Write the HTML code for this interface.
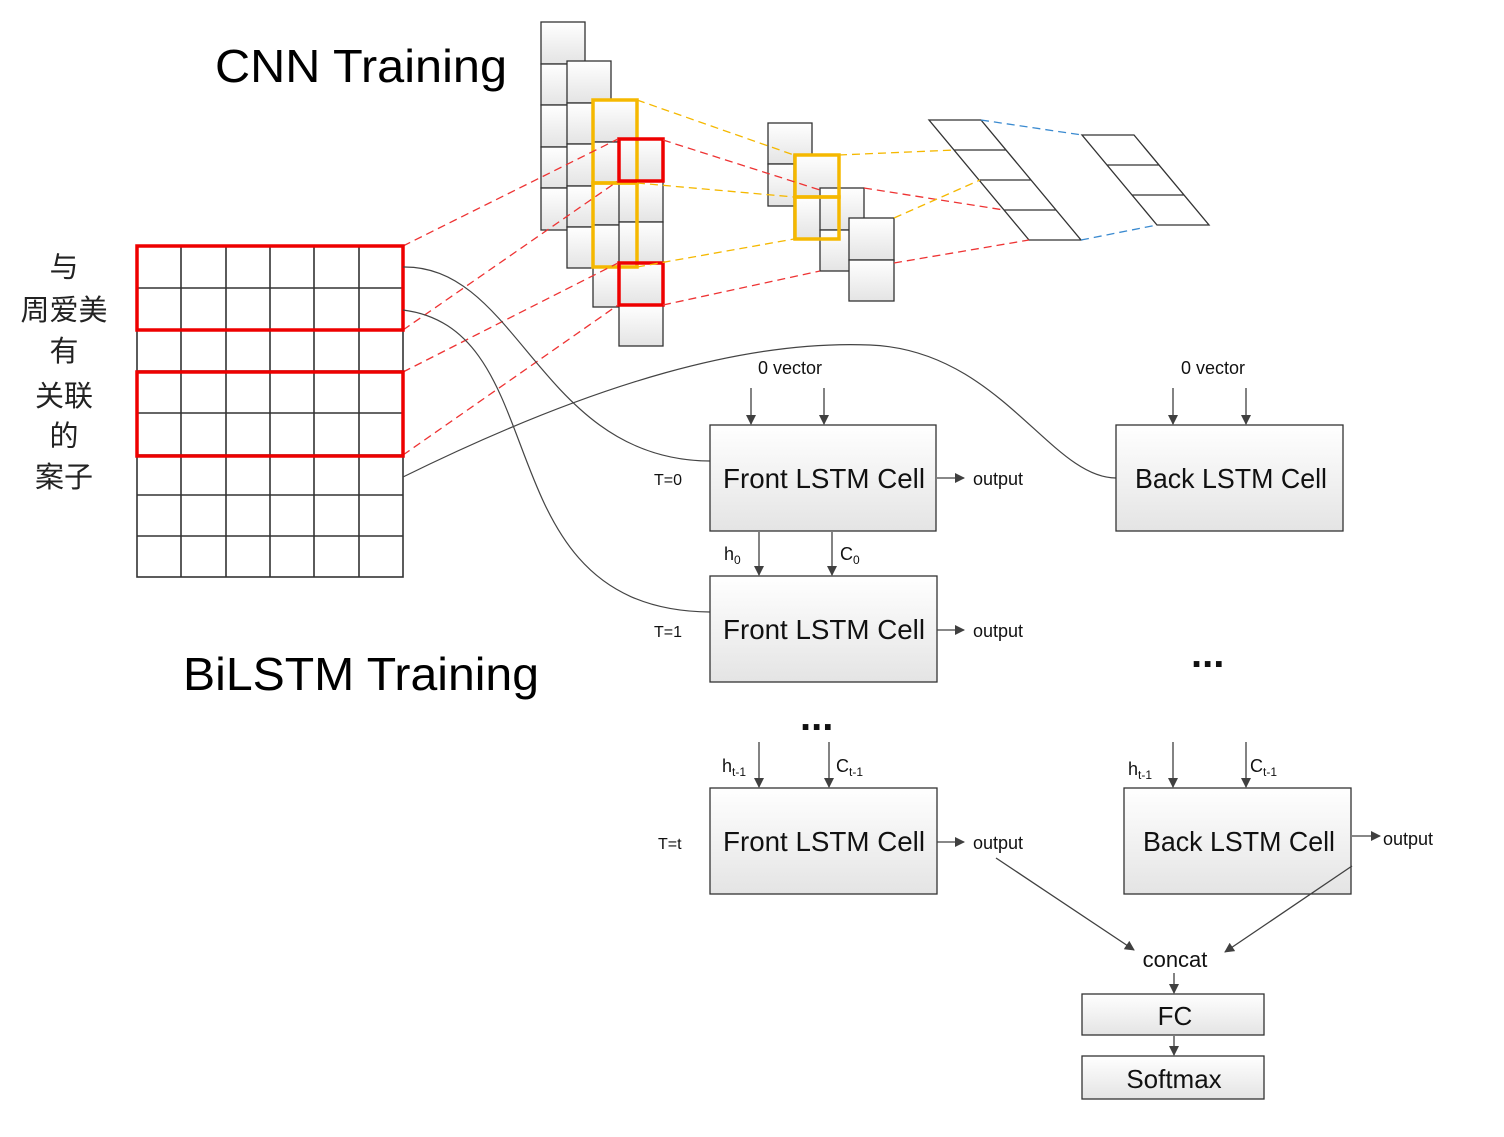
<!DOCTYPE html>
<html><head><meta charset="utf-8"><style>body{margin:0;background:#fff}svg{display:block}</style></head><body>
<svg width="1504" height="1137" viewBox="0 0 1504 1137" xmlns="http://www.w3.org/2000/svg" font-family="Liberation Sans, sans-serif">
<defs>
<linearGradient id="g" x1="0" y1="0" x2="0" y2="1"><stop offset="0" stop-color="#fff"/><stop offset="1" stop-color="#e4e4e4"/></linearGradient>
<marker id="a" markerWidth="10" markerHeight="10" refX="9" refY="5" orient="auto" markerUnits="userSpaceOnUse"><path d="M0,0 L10,5 L0,10 z" fill="#404040"/></marker>
</defs>
<text x="215" y="82" font-size="46" textLength="292" lengthAdjust="spacingAndGlyphs">CNN Training</text>
<text x="183" y="690" font-size="46" textLength="356" lengthAdjust="spacingAndGlyphs">BiLSTM Training</text>
<g font-family="Liberation Sans, Noto Sans CJK SC, sans-serif" font-size="29" fill="#222" text-anchor="middle">
<text x="64" y="277">与</text><text x="64" y="320">周爱美</text><text x="64" y="361">有</text><text x="64" y="406">关联</text><text x="64" y="446">的</text><text x="64" y="487">案子</text>
</g>
<!-- CNN columns -->
<g stroke="#333" stroke-width="1.3" fill="url(#g)">
<rect x="541" y="22" width="44" height="42"/><rect x="541" y="64" width="44" height="41"/><rect x="541" y="105" width="44" height="42"/><rect x="541" y="147" width="44" height="41"/><rect x="541" y="188" width="44" height="42"/>
<rect x="567" y="61" width="44" height="42"/><rect x="567" y="103" width="44" height="41"/><rect x="567" y="144" width="44" height="42"/><rect x="567" y="186" width="44" height="41"/><rect x="567" y="227" width="44" height="41"/>
<rect x="593" y="100" width="44" height="42"/><rect x="593" y="142" width="44" height="41"/><rect x="593" y="183" width="44" height="42"/><rect x="593" y="225" width="44" height="42"/><rect x="593" y="267" width="44" height="40"/>
<rect x="619" y="139" width="44" height="42"/><rect x="619" y="181" width="44" height="41"/><rect x="619" y="222" width="44" height="41"/><rect x="619" y="263" width="44" height="42"/><rect x="619" y="305" width="44" height="41"/>
<rect x="768" y="123" width="44" height="41"/><rect x="768" y="164" width="44" height="42"/>
<rect x="794" y="155" width="45" height="42"/><rect x="794" y="197" width="45" height="42"/>
<rect x="820" y="188" width="44" height="42"/><rect x="820" y="230" width="44" height="41"/>
<rect x="849" y="218" width="45" height="42"/><rect x="849" y="260" width="45" height="41"/>
</g>
<g fill="none" stroke="#f5b800" stroke-width="3.5"><rect x="593" y="100" width="44" height="83"/><rect x="593" y="183" width="44" height="84"/><rect x="795" y="155" width="44" height="42"/><rect x="795" y="197" width="44" height="42"/></g>
<g fill="none" stroke="#e00" stroke-width="3.5"><rect x="619" y="139" width="44" height="42"/><rect x="619" y="263" width="44" height="42"/></g>
<!-- parallelograms -->
<g fill="none" stroke="#333" stroke-width="1.3">
<path d="M929,120 H981 L1081,240 H1029 Z M954,150 H1006 M979,180 H1031 M1004,210 H1056"/>
<path d="M1082,135 H1134 L1209,225 H1157 Z M1107,165 H1159 M1132,195 H1184"/>
</g>
<!-- dashed -->
<g fill="none" stroke-width="1.3" stroke-dasharray="8,5">
<g stroke="#e33"><path d="M403,246 L618,139 M403,330 L618,181 M403,372 L618,263 M403,455 L618,305 M663,140 L820,190 M663,305 L820,271 M864,188 L1004,210 M894,263 L1029,240"/></g>
<g stroke="#f5b800"><path d="M637,100 L794,155 M637,183 L794,197 M637,267 L794,239 M839,155 L955,150 M894,218 L980,180"/></g>
<g stroke="#3a8ad0"><path d="M981,120 L1082,135 M1081,240 L1157,225"/></g>
</g>
<!-- matrix -->
<g stroke="#333" stroke-width="1.6" fill="none">
<rect x="137" y="246" width="266" height="331"/>
<path d="M181,246V577M226,246V577M270,246V577M314,246V577M359,246V577 M137,288H403M137,330H403M137,371H403M137,413H403M137,455H403M137,495H403M137,536H403"/>
</g>
<g fill="none" stroke="#e00" stroke-width="3.5"><rect x="137" y="246" width="266" height="84"/><rect x="137" y="372" width="266" height="84"/></g>
<!-- curves -->
<g fill="none" stroke="#444" stroke-width="1.2">
<path d="M403,267 C520,265 540,460 710,461"/>
<path d="M403,310 C560,330 480,610 710,612"/>
<path d="M403,477 C600,380 750,340 870,345 C1000,350 1050,478 1116,478"/>
</g>
<!-- LSTM boxes -->
<g stroke="#333" stroke-width="1.3" fill="url(#g)">
<rect x="710" y="425" width="226" height="106"/><rect x="1116" y="425" width="227" height="106"/>
<rect x="710" y="576" width="227" height="106"/><rect x="710" y="788" width="227" height="106"/>
<rect x="1124" y="788" width="227" height="106"/>
<rect x="1082" y="994" width="182" height="41"/><rect x="1082" y="1056" width="182" height="43"/>
</g>
<g font-size="28" fill="#111" text-anchor="middle">
<text x="824" y="488" textLength="202" lengthAdjust="spacingAndGlyphs">Front LSTM Cell</text>
<text x="1231" y="488" textLength="192" lengthAdjust="spacingAndGlyphs">Back LSTM Cell</text>
<text x="824" y="639" textLength="202" lengthAdjust="spacingAndGlyphs">Front LSTM Cell</text>
<text x="824" y="851" textLength="202" lengthAdjust="spacingAndGlyphs">Front LSTM Cell</text>
<text x="1239" y="851" textLength="192" lengthAdjust="spacingAndGlyphs">Back LSTM Cell</text>
<text x="1175" y="1025" font-size="26">FC</text>
<text x="1174" y="1088" font-size="26">Softmax</text>
<text x="1175" y="967" font-size="22">concat</text>
</g>
<g font-size="18" fill="#111">
<text x="758" y="374">0 vector</text><text x="1181" y="374">0 vector</text>
<text x="973" y="485">output</text><text x="973" y="637">output</text><text x="973" y="849">output</text><text x="1383" y="845">output</text>
<text x="654" y="485" font-size="16">T=0</text><text x="654" y="637" font-size="16">T=1</text><text x="658" y="849" font-size="16">T=t</text>
<text x="724" y="560">h<tspan font-size="12" dy="4">0</tspan></text>
<text x="840" y="560">C<tspan font-size="12" dy="4">0</tspan></text>
<text x="722" y="772">h<tspan font-size="12" dy="4">t-1</tspan></text>
<text x="836" y="772">C<tspan font-size="12" dy="4">t-1</tspan></text>
<text x="1128" y="775">h<tspan font-size="12" dy="4">t-1</tspan></text>
<text x="1250" y="772">C<tspan font-size="12" dy="4">t-1</tspan></text>
</g>
<g font-size="40" font-weight="bold" fill="#111"><text x="800" y="730">...</text><text x="1191" y="667">...</text></g>
<!-- arrows -->
<g stroke="#404040" stroke-width="1.3" marker-end="url(#a)" fill="none">
<path d="M751,388V424"/><path d="M824,388V424"/><path d="M1173,388V424"/><path d="M1246,388V424"/>
<path d="M759,532V575"/><path d="M832,532V575"/>
<path d="M759,742V787"/><path d="M829,742V787"/><path d="M1173,742V787"/><path d="M1246,742V787"/>
<path d="M937,478H964"/><path d="M937,630H964"/><path d="M937,842H964"/><path d="M1352,836H1380"/>
<path d="M996,858L1134,950"/><path d="M1352,866L1225,952"/>
<path d="M1174,973V993"/><path d="M1174,1036V1055"/>
</g>
</svg>
</body></html>
